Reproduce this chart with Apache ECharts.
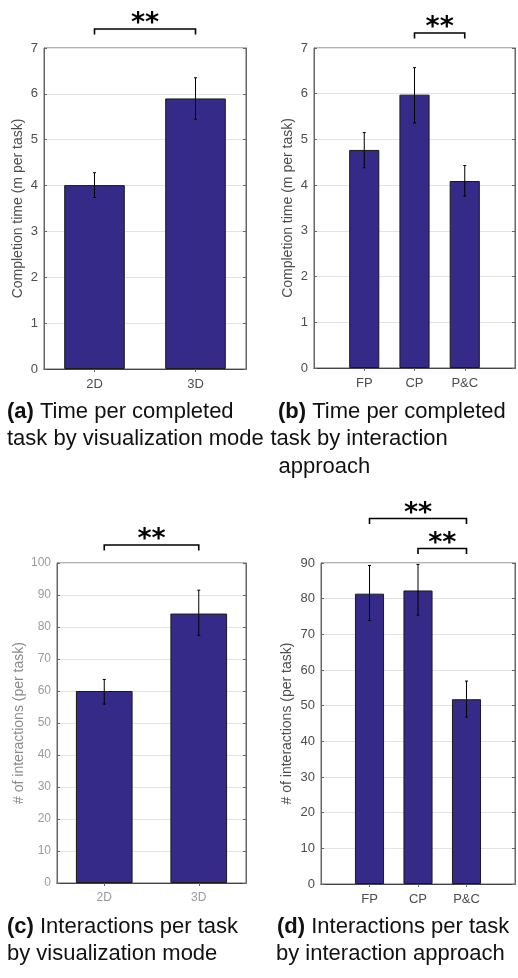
<!DOCTYPE html>
<html>
<head>
<meta charset="utf-8">
<script src="https://cdn.jsdelivr.net/npm/echarts@6/dist/echarts.min.js"></script>
<style>
  html, body { margin: 0; padding: 0; background: #fff; }
  #chart { width: 518px; height: 978px; }
</style>
</head>
<body>
<div id="chart"></div>
<script>
// categories
const modeCats = ['2D', '3D']
const approachCats = ['FP', 'CP', 'P&C']

// completion time (m per task)
const timeByMode = [4.01, 5.9]
const timeByModeErr = [[3.74, 4.28], [5.45, 6.35]]
const timeByApproach = [4.77, 5.98, 4.09]
const timeByApproachErr = [[4.38, 5.15], [5.36, 6.57], [3.76, 4.43]]

// # of interactions (per task)
const interByMode = [60, 84.2]
const interByModeErr = [[55.9, 63.6], [77.4, 91.5]]
const interByApproach = [81.4, 82.3, 51.8]
const interByApproachErr = [[73.9, 89.3], [75.4, 89.6], [46.8, 56.9]]

// significance brackets: [from, to, level]
const sigTimeMode = [['2D', '3D', 0]]
const sigTimeApproach = [['CP', 'P&C', 0]]
const sigInterMode = [['2D', '3D', 0]]
const sigInterApproach = [['FP', 'P&C', 1], ['CP', 'P&C', 0]]

// y axis ranges
const timeMax = 7, timeStep = 1
const interModeMax = 100, interApproachMax = 90, interStep = 10

const captions = [
  ['{b|(a)} Time per completed', 'task by visualization mode'],
  ['{b|(b)} Time per completed', 'task by interaction', 'approach'],
  ['{b|(c)} Interactions per task', 'by visualization mode'],
  ['{b|(d)} Interactions per task', 'by interaction approach']
]

const FONT = 'Liberation Sans'
const BAR = '#352a87'

const panels = [
  { cats: modeCats, pad: false, values: timeByMode, err: timeByModeErr, sig: sigTimeMode,
    max: timeMax, step: timeStep, name: 'Completion time (m per task)',
    grid: { left: 44, top: 48, width: 202, height: 321 },
    labelColor: '#4d4d4d', nameColor: '#4d4d4d', fontSize: 13, nameGap: 19, sigBase: 19 },
  { cats: approachCats, pad: true, values: timeByApproach, err: timeByApproachErr, sig: sigTimeApproach,
    max: timeMax, step: timeStep, name: 'Completion time (m per task)',
    grid: { left: 314, top: 48, width: 201, height: 320 },
    labelColor: '#4d4d4d', nameColor: '#4d4d4d', fontSize: 13, nameGap: 19, sigBase: 15 },
  { cats: modeCats, pad: false, values: interByMode, err: interByModeErr, sig: sigInterMode,
    max: interModeMax, step: interStep, name: '# of interactions (per task)',
    grid: { left: 57, top: 563, width: 189, height: 320 },
    labelColor: '#9a9a9a', nameColor: '#8a8a8a', fontSize: 12, nameGap: 31, sigBase: 18 },
  { cats: approachCats, pad: true, values: interByApproach, err: interByApproachErr, sig: sigInterApproach,
    max: interApproachMax, step: interStep, name: '# of interactions (per task)',
    grid: { left: 321, top: 563, width: 194, height: 321 },
    labelColor: '#4d4d4d', nameColor: '#4d4d4d', fontSize: 13, nameGap: 27, sigBase: 14.5 }
]

const grids = [], xAxes = [], yAxes = [], series = []

panels.forEach((p, i) => {
  const off = p.pad ? 1 : 0
  const axisData = p.pad ? [''].concat(p.cats, [' ']) : p.cats.slice()
  const barData = p.pad ? ['-'].concat(p.values, ['-']) : p.values.slice()
  grids.push(Object.assign({ show: true, borderColor: '#666', borderWidth: 1, backgroundColor: '#fff',
    outerBoundsMode: 'none', containLabel: false }, p.grid))

  const tickShown = (idx, v) => v !== '' && v !== ' '
  // bottom x axis
  xAxes.push({
    gridIndex: i, type: 'category', data: axisData, boundaryGap: !p.pad,
    axisLine: { show: true, lineStyle: { color: '#666', width: 1 } },
    axisTick: { show: true, inside: true, length: 3, interval: tickShown, alignWithLabel: true, lineStyle: { color: '#666' } },
    axisLabel: { color: p.labelColor, fontSize: p.fontSize, fontFamily: FONT, margin: 9, interval: 0 },
    splitLine: { show: false }
  })
  // top mirror (box ticks)
  xAxes.push({
    gridIndex: i, type: 'category', data: axisData, boundaryGap: !p.pad, position: 'top',
    axisLine: { show: true, lineStyle: { color: '#444', width: 1 } },
    axisTick: { show: true, inside: true, length: 3, interval: tickShown, alignWithLabel: true, lineStyle: { color: '#666' } },
    axisLabel: { show: false }, splitLine: { show: false }
  })
  // left y axis
  yAxes.push({
    gridIndex: i, type: 'value', min: 0, max: p.max, interval: p.step,
    name: p.name, nameLocation: 'middle', nameGap: p.nameGap,
    nameTextStyle: { color: p.nameColor, fontSize: 14, fontFamily: FONT },
    axisLine: { show: true, lineStyle: { color: '#666', width: 1 } },
    axisTick: { show: true, inside: true, length: 3, lineStyle: { color: '#666' } },
    axisLabel: { color: p.labelColor, fontSize: p.fontSize, fontFamily: FONT, margin: 6 },
    splitLine: { show: true, lineStyle: { color: '#e3e3e3', width: 1 } }
  })
  // right mirror
  yAxes.push({
    gridIndex: i, type: 'value', min: 0, max: p.max, interval: p.step, position: 'right',
    axisLine: { show: true, lineStyle: { color: '#666', width: 1 } },
    axisTick: { show: true, inside: true, length: 3, lineStyle: { color: '#666' } },
    axisLabel: { show: false }, splitLine: { show: false }
  })

  series.push({
    type: 'bar', xAxisIndex: i * 2, yAxisIndex: i * 2, data: barData, barWidth: '60%',
    itemStyle: { color: BAR, borderColor: '#1a1a1a', borderWidth: 1 }, z: 2
  })

  // error bars
  series.push({
    type: 'custom', xAxisIndex: i * 2, yAxisIndex: i * 2, z: 5,
    data: p.err.map((e, k) => [k + off, e[0], e[1]]),
    encode: { x: 0, y: [1, 2] },
    renderItem: (params, api) => {
      const lo = api.coord([api.value(0), api.value(1)])
      const hi = api.coord([api.value(0), api.value(2)])
      const st = { stroke: '#000', lineWidth: 1 }
      return {
        type: 'group',
        children: [
          { type: 'line', shape: { x1: lo[0], y1: lo[1], x2: hi[0], y2: hi[1] }, style: st },
          { type: 'line', shape: { x1: lo[0] - 1.5, y1: lo[1], x2: lo[0] + 1.5, y2: lo[1] }, style: st },
          { type: 'line', shape: { x1: hi[0] - 1.5, y1: hi[1], x2: hi[0] + 1.5, y2: hi[1] }, style: st }
        ]
      }
    }
  })

  // significance brackets
  series.push({
    type: 'custom', xAxisIndex: i * 2, yAxisIndex: i * 2, z: 6, clip: false,
    data: p.sig.map(s => [p.cats.indexOf(s[0]) + off, p.cats.indexOf(s[1]) + off, s[2]]),
    encode: { x: [0, 1] },
    renderItem: (params, api) => {
      const x1 = api.coord([api.value(0), 0])[0]
      const x2 = api.coord([api.value(1), 0])[0]
      const y = params.coordSys.y - p.sigBase - api.value(2) * 30
      const tip = 5.5
      return {
        type: 'group',
        children: [
          { type: 'polyline', shape: { points: [[x1, y + tip], [x1, y], [x2, y], [x2, y + tip]] },
            style: { stroke: '#000', lineWidth: 1.6, fill: null } },
          { type: 'text', x: (x1 + x2) / 2, y: y - 11 + 6,
            style: { text: '**', fill: '#000', fontSize: 27, fontWeight: 'bold', fontFamily: 'DejaVu Sans',
              align: 'center', verticalAlign: 'middle' } }
        ]
      }
    }
  })
})

// caption placement
const capPos = [
  [[7, 412], [7, 439]],
  [[278, 412], [270.5, 439], [278.5, 466.5]],
  [[7, 927], [7, 953.5]],
  [[277, 927], [276, 953.5]]
]
const graphic = []
captions.forEach((lines, i) => {
  lines.forEach((t, j) => {
    graphic.push({
      type: 'text', x: capPos[i][j][0], y: capPos[i][j][1],
      style: {
        text: t, fill: '#111', fontSize: 22, fontFamily: FONT, align: 'left', verticalAlign: 'middle',
        rich: { b: { fontSize: 22, fontFamily: FONT, fontWeight: 'bold', fill: '#111' } }
      }
    })
  })
})

const chart = echarts.init(document.getElementById('chart'), null, { renderer: 'canvas' })
chart.setOption({
  animation: false,
  backgroundColor: '#fff',
  grid: grids,
  xAxis: xAxes,
  yAxis: yAxes,
  series: series,
  graphic: graphic
})
</script>
</body>
</html>
